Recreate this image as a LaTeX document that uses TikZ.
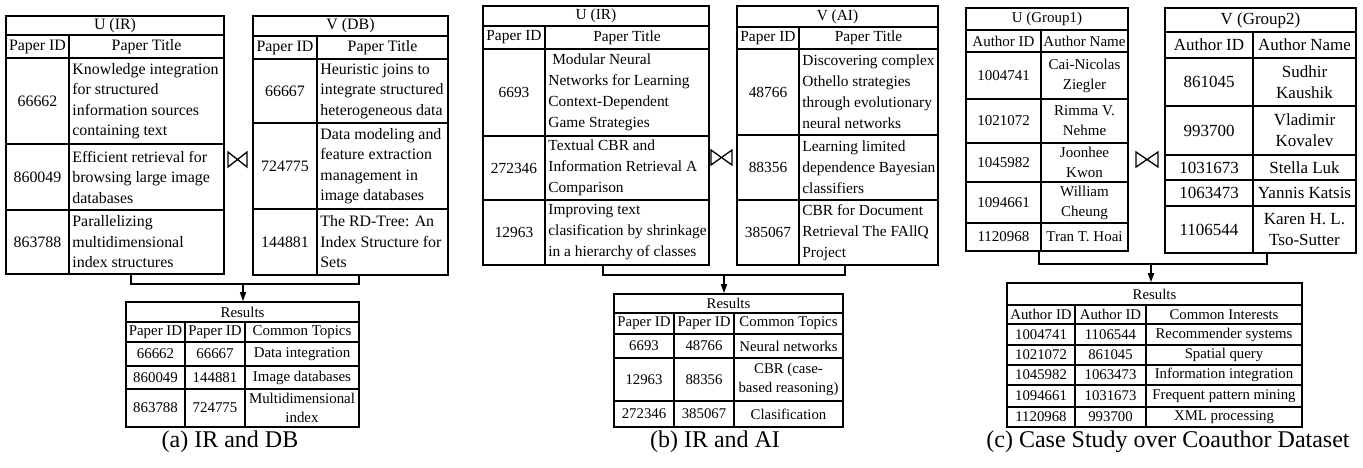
\documentclass[tikz,border=0pt]{standalone}
\usepackage{fontspec}
\setmainfont{Liberation Serif}
\usetikzlibrary{arrows.meta}
\newcommand{\fsz}[2]{\fontsize{#1pt}{#2pt}\selectfont}
% centered cell: name, x1, y1, x2, y2, text
\newcommand{\ccell}[6]{%
  \pgfmathsetmacro\cellw{#4-#2}\pgfmathsetmacro\cellh{#5-#3}%
  \node[cellbox,minimum width=\cellw pt,minimum height=\cellh pt] (#1) at ({(#2+#4)/2},{(#3+#5)/2}) {};
  \node[celltext,align=center] (#1l) at (#1.center) {#6};}
% left aligned cell
\newcommand{\lcell}[6]{%
  \pgfmathsetmacro\cellw{#4-#2}\pgfmathsetmacro\cellh{#5-#3}%
  \node[cellbox,minimum width=\cellw pt,minimum height=\cellh pt] (#1) at ({(#2+#4)/2},{(#3+#5)/2}) {};
  \node[celltext,align=left,anchor=west] (#1l) at ([xshift=4pt]#1.west) {#6};}
\newcommand{\bowtiemark}[4]{\draw[bowtieline] (#1,#2) -- (#1,#4) -- (#3,#2) -- (#3,#4) -- cycle;}
\tikzset{
  cellbox/.style={draw, line width=1.6pt, inner sep=0pt},
  celltext/.style={inner sep=0pt},
  conn/.style={line width=1.6pt},
  arr/.style={-{Triangle[length=9pt,width=6pt]}},
  bowtieline/.style={line width=1.3pt, line join=miter},
  captext/.style={font=\fsz{24}{28}, inner sep=0pt},
}
\begin{document}
\begin{tikzpicture}[x=1pt,y=-1pt]
\useasboundingbox (0,0) rectangle (1363,468);

% ================= (a) =================
\begin{scope}[font=\fsz{15.9}{20.5}]
\ccell{aUt}{6}{16}{224}{35}{U (IR)}
\ccell{aUh1}{6}{35}{69}{58}{Paper ID}
\ccell{aUh2}{69}{35}{224}{58}{Paper Title}
\ccell{aU1i}{6}{58}{69}{144}{66662}
\lcell{aU1t}{69}{58}{224}{144}{Knowledge integration\\for structured\\information sources\\containing text}
\ccell{aU2i}{6}{144}{69}{210}{860049}
\lcell{aU2t}{69}{144}{224}{210}{Efficient retrieval for\\browsing large image\\databases}
\ccell{aU3i}{6}{210}{69}{274}{863788}
\lcell{aU3t}{69}{210}{224}{274}{Parallelizing\\multidimensional\\index structures}

\ccell{aVt}{253}{16}{448}{36}{V (DB)}
\ccell{aVh1}{253}{36}{317}{59}{Paper ID}
\ccell{aVh2}{317}{36}{448}{59}{Paper Title}
\ccell{aV1i}{253}{59}{317}{123}{66667}
\lcell{aV1t}{317}{59}{448}{123}{Heuristic joins to\\integrate structured\\heterogeneous data}
\ccell{aV2i}{253}{123}{317}{209}{724775}
\lcell{aV2t}{317}{123}{448}{209}{Data modeling and\\feature extraction\\management in\\image databases}
\ccell{aV3i}{253}{209}{317}{275}{144881}
\lcell{aV3t}{317}{209}{448}{275}{The RD-Tree: An\\Index Structure for\\Sets}
\end{scope}
\begin{scope}[font=\fsz{14.9}{19.5}]
\ccell{aRt}{126}{302}{359}{322}{Results}
\ccell{aRh1}{126}{322}{185}{342}{Paper ID}
\ccell{aRh2}{185}{322}{245}{342}{Paper ID}
\ccell{aRh3}{245}{322}{359}{342}{Common Topics}
\ccell{aR1a}{126}{342}{185}{366}{66662}
\ccell{aR1b}{185}{342}{245}{366}{66667}
\ccell{aR1c}{245}{342}{359}{366}{Data integration}
\ccell{aR2a}{126}{366}{185}{389}{860049}
\ccell{aR2b}{185}{366}{245}{389}{144881}
\ccell{aR2c}{245}{366}{359}{389}{Image databases}
\ccell{aR3a}{126}{389}{185}{427}{863788}
\ccell{aR3b}{185}{389}{245}{427}{724775}
\ccell{aR3c}{245}{389}{359}{427}{Multidimensional\\index}
\end{scope}
\bowtiemark{228}{152}{247}{167}
\coordinate (aJl) at (131,274);
\coordinate (aJr) at (359,275);
\coordinate (aJm) at (243,284);
\draw[conn] (aJl) |- (aJm) -| (aJr);
\draw[conn,arr] (aJm) -- (aJm |- aRt.north);
\node[captext] (capA) at (230,442) {(a) IR and DB};

% ================= (b) =================
\begin{scope}[font=\fsz{15.4}{21}]
\ccell{bUt}{483}{6}{709}{26}{U (IR)}
\ccell{bUh1}{483}{26}{545}{49}{Paper ID}
\ccell{bUh2}{545}{26}{709}{49}{Paper Title}
\ccell{bU1i}{483}{49}{545}{136}{6693}
\lcell{bU1t}{545}{49}{709}{136}{\hspace{0.25em}Modular Neural\\Networks for Learning\\Context-Dependent\\Game Strategies}
\ccell{bU2i}{483}{136}{545}{200}{272346}
\lcell{bU2t}{545}{136}{709}{200}{Textual CBR and\\Information Retrieval A\\Comparison}
\ccell{bU3i}{483}{200}{545}{265}{12963}
\lcell{bU3t}{545}{200}{709}{265}{Improving text\\clasification by shrinkage\\in a hierarchy of classes}

\ccell{bVt}{737}{6}{938}{27}{V (AI)}
\ccell{bVh1}{737}{27}{799}{49}{Paper ID}
\ccell{bVh2}{799}{27}{938}{49}{Paper Title}
\ccell{bV1i}{737}{49}{799}{135}{48766}
\lcell{bV1t}{799}{49}{938}{135}{Discovering complex\\Othello strategies\\through evolutionary\\neural networks}
\ccell{bV2i}{737}{135}{799}{200}{88356}
\lcell{bV2t}{799}{135}{938}{200}{Learning limited\\dependence Bayesian\\classifiers}
\ccell{bV3i}{737}{200}{799}{265}{385067}
\lcell{bV3t}{799}{200}{938}{265}{CBR for Document\\Retrieval The FAllQ\\Project}
\end{scope}
\begin{scope}[font=\fsz{14.8}{19.5}]
\ccell{bRt}{614}{294}{843}{313}{Results}
\ccell{bRh1}{614}{313}{674}{334}{Paper ID}
\ccell{bRh2}{674}{313}{734}{334}{Paper ID}
\ccell{bRh3}{734}{313}{843}{334}{Common Topics}
\ccell{bR1a}{614}{334}{674}{358}{6693}
\ccell{bR1b}{674}{334}{734}{358}{48766}
\ccell{bR1c}{734}{334}{843}{358}{Neural networks}
\ccell{bR2a}{614}{358}{674}{401}{12963}
\ccell{bR2b}{674}{358}{734}{401}{88356}
\ccell{bR2c}{734}{358}{843}{401}{CBR (case-\\based reasoning)}
\ccell{bR3a}{614}{401}{674}{427}{272346}
\ccell{bR3b}{674}{401}{734}{427}{385067}
\ccell{bR3c}{734}{401}{843}{427}{Clasification}
\end{scope}
\bowtiemark{711}{150}{732}{165}
\coordinate (bJl) at (603,265);
\coordinate (bJr) at (845,265);
\coordinate (bJm) at (724,275);
\draw[conn] (bJl) |- (bJm) -| (bJr);
\draw[conn,arr] (bJm) -- (bJm |- bRt.north);
\node[captext] (capB) at (715,442) {(b) IR and AI};

% ================= (c) =================
\begin{scope}[font=\fsz{15}{20}]
\ccell{cUt}{966}{8}{1128}{30}{U (Group1)}
\ccell{cUh1}{966}{30}{1041}{52}{Author ID}
\ccell{cUh2}{1041}{30}{1128}{52}{Author Name}
\ccell{cU1i}{966}{52}{1041}{99}{1004741}
\ccell{cU1n}{1041}{52}{1128}{99}{Cai-Nicolas\\Ziegler}
\ccell{cU2i}{966}{99}{1041}{143}{1021072}
\ccell{cU2n}{1041}{99}{1128}{143}{Rimma V.\\Nehme}
\ccell{cU3i}{966}{143}{1041}{182}{1045982}
\ccell{cU3n}{1041}{143}{1128}{182}{Joonhee\\Kwon}
\ccell{cU4i}{966}{182}{1041}{223}{1094661}
\ccell{cU4n}{1041}{182}{1128}{223}{William\\Cheung}
\ccell{cU5i}{966}{223}{1041}{251}{1120968}
\ccell{cU5n}{1041}{223}{1128}{251}{Tran T. Hoai}
\end{scope}
\begin{scope}[font=\fsz{17}{21}]
\ccell{cVt}{1165}{8}{1356}{32}{V (Group2)}
\ccell{cVh1}{1165}{32}{1253}{58}{Author ID}
\ccell{cVh2}{1253}{32}{1356}{58}{Author Name}
\ccell{cV1i}{1165}{58}{1253}{106}{861045}
\ccell{cV1n}{1253}{58}{1356}{106}{Sudhir\\Kaushik}
\ccell{cV2i}{1165}{106}{1253}{155}{993700}
\ccell{cV2n}{1253}{106}{1356}{155}{Vladimir\\Kovalev}
\ccell{cV3i}{1165}{155}{1253}{180}{1031673}
\ccell{cV3n}{1253}{155}{1356}{180}{Stella Luk}
\ccell{cV4i}{1165}{180}{1253}{206}{1063473}
\ccell{cV4n}{1253}{180}{1356}{206}{Yannis Katsis}
\ccell{cV5i}{1165}{206}{1253}{253}{1106544}
\ccell{cV5n}{1253}{206}{1356}{253}{Karen H. L.\\Tso-Sutter}
\end{scope}
\begin{scope}[font=\fsz{14.8}{19}]
\ccell{cRt}{1007}{283}{1302}{305}{Results}
\ccell{cRh1}{1007}{305}{1075}{324}{Author ID}
\ccell{cRh2}{1075}{305}{1146}{324}{Author ID}
\ccell{cRh3}{1146}{305}{1302}{324}{Common Interests}
\ccell{cR1a}{1007}{324}{1075}{345}{1004741}
\ccell{cR1b}{1075}{324}{1146}{345}{1106544}
\ccell{cR1c}{1146}{324}{1302}{345}{Recommender systems}
\ccell{cR2a}{1007}{345}{1075}{365}{1021072}
\ccell{cR2b}{1075}{345}{1146}{365}{861045}
\ccell{cR2c}{1146}{345}{1302}{365}{Spatial query}
\ccell{cR3a}{1007}{365}{1075}{385}{1045982}
\ccell{cR3b}{1075}{365}{1146}{385}{1063473}
\ccell{cR3c}{1146}{365}{1302}{385}{Information integration}
\ccell{cR4a}{1007}{385}{1075}{407}{1094661}
\ccell{cR4b}{1075}{385}{1146}{407}{1031673}
\ccell{cR4c}{1146}{385}{1302}{407}{Frequent pattern mining}
\ccell{cR5a}{1007}{407}{1075}{427}{1120968}
\ccell{cR5b}{1075}{407}{1146}{427}{993700}
\ccell{cR5c}{1146}{407}{1302}{427}{XML processing}
\end{scope}
\bowtiemark{1136}{152}{1158}{167}
\coordinate (cJl) at (1039,251);
\coordinate (cJr) at (1267,253);
\coordinate (cJm) at (1151,264);
\draw[conn] (cJl) |- (cJm) -| (cJr);
\draw[conn,arr] (cJm) -- (cJm |- cRt.north);
\node[captext] (capC) at (1168,442) {(c) Case Study over Coauthor Dataset};
\end{tikzpicture}
\end{document}
